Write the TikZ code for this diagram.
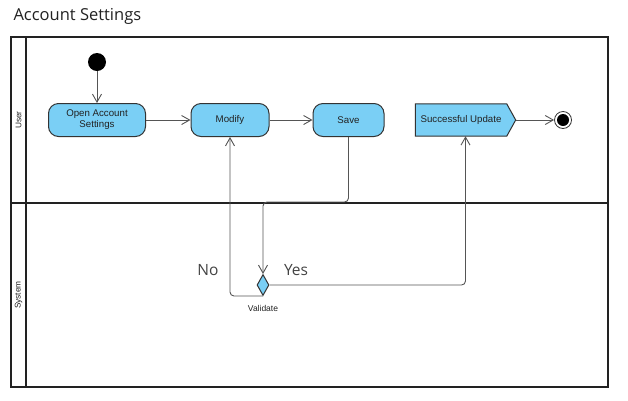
\documentclass[tikz,border=0pt]{standalone}
\usepackage{fontspec}
\setmainfont{Liberation Sans}
\newfontfamily\headfont{Open Sans}
\usetikzlibrary{arrows.meta,shapes.geometric}
\pgfdeclarelayer{bg}
\pgfsetlayers{bg,main}
\definecolor{actfill}{HTML}{7ACFF5}
\definecolor{actline}{HTML}{333333}
\definecolor{flowline}{HTML}{555555}
\definecolor{inktext}{HTML}{222222}
\tikzset{
  action/.style={draw=actline, line width=1pt, fill=actfill, rounded corners=10pt,
    minimum height=33pt, inner sep=2pt, align=center, text=inktext,
    font=\fontsize{9.7}{10.8}\selectfont},
  flow/.style={draw=flowline, line width=0.9pt, rounded corners=4pt,
    -{Straight Barb[length=8pt,width=9pt,line width=0.9pt]}},
  lanelabel/.style={rotate=90, font=\fontsize{8.3}{9}\selectfont, text=inktext},
  frameline/.style={draw=inktext, line width=1.8pt},
  laneline/.style={draw=inktext, line width=1.4pt},
  guard/.style={font=\headfont\fontsize{15.5}{17}\selectfont, text=inktext!85}
}
\begin{document}
\begin{tikzpicture}[x=1pt,y=-1pt]
\useasboundingbox (0,0) rectangle (628,400);

% title
\node[anchor=west, font=\headfont\fontsize{16.5}{18}\selectfont, text=inktext] (title) at (10,16) {Account Settings};

% swimlane frame
\draw[laneline] (26,37) -- (26,387);
\draw[laneline] (11,203) -- (608,203);
\draw[frameline] (11,37) rectangle (608,387);
\node[lanelabel] (laneuser) at (18.5,120) {User};
\node[lanelabel] (lanesys) at (18.5,295) {System};

% activities
\node[circle, fill=black, minimum size=18pt, inner sep=0pt] (init) at (97,62) {};
\node[action, minimum width=97pt] (open) at (97,120) {Open Account\\Settings};
\node[action, minimum width=78pt] (modify) at (230,120) {Modify};
\node[action, minimum width=71pt] (save) at (348.5,120) {Save};
\node[minimum width=100pt, minimum height=32pt, inner sep=0pt, text=inktext,
      font=\fontsize{9.7}{10.8}\selectfont] (update) at (465.5,120) {\hspace*{-9pt}Successful Update};
\begin{pgfonlayer}{bg}
  \draw[draw=actline, line width=1pt, fill=actfill]
    (update.north west) -- ([xshift=-9pt]update.north east) -- (update.east)
    -- ([xshift=-9pt]update.south east) -- (update.south west) -- cycle;
\end{pgfonlayer}
\node[circle, draw=actline, line width=0.8pt, fill=white, minimum size=17pt, inner sep=0pt] (final) at (563,120) {};
\node[circle, fill=black, minimum size=12pt, inner sep=0pt] (finalcore) at (final.center) {};

% decision
\node[diamond, draw=actline, line width=1pt, fill=actfill, minimum width=12pt,
      minimum height=21pt, inner sep=0pt] (validate) at (263,285) {};
\node[font=\fontsize{8.5}{10}\selectfont, text=inktext] (valtext) at (263,308) {Validate};
\node[guard] (nolabel) at (208,270) {No};
\node[guard] (yeslabel) at (296,270) {Yes};

% control flows
\draw[flow] (init) -- (open);
\draw[flow] (open) -- (modify);
\draw[flow] (modify) -- (save);
\draw[flow] (update) -- (final);
\draw[flow] (save.south) -- ++(0,65) -| (validate.north);
\draw[flow] (validate.south) -| (modify.south);
\draw[flow] (validate.east) -| (update.south);
\end{tikzpicture}
\end{document}
